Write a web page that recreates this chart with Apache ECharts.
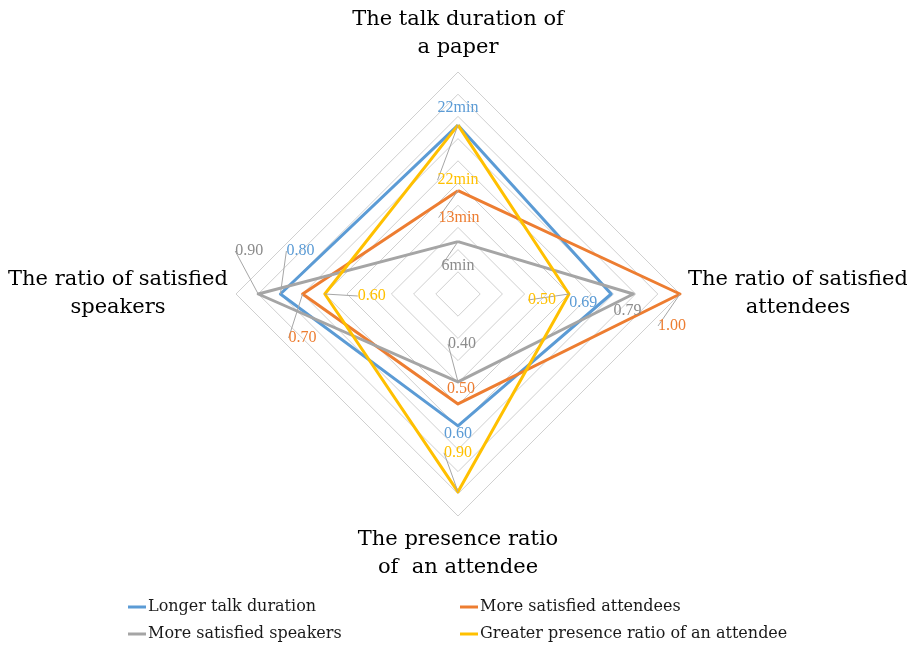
<!DOCTYPE html>
<html>
<head>
<meta charset="utf-8">
<script src="https://cdn.jsdelivr.net/npm/echarts@6/dist/echarts.min.js"></script>
<style>
html,body{margin:0;padding:0;background:#fff;}
#chart{width:907px;height:646px;}
</style>
</head>
<body>
<div id="chart"></div>
<script>
// Indicator order as ECharts places them (counter-clockwise from top): top, left, bottom, right
const indicatorNames = [
  'The talk duration of\na paper',
  'The ratio of satisfied\nspeakers',
  'The presence ratio\nof  an attendee',
  'The ratio of satisfied\nattendees'
];
const indicatorMin = [-1.2, 0, 0, 0];
const indicatorMax = [29.3, 1, 1.01, 1];
const labelUnits = ['min', '', '', ''];

const seriesNames = [
  'Longer talk duration',
  'More satisfied attendees',
  'More satisfied speakers',
  'Greater presence ratio of an attendee'
];
const longerTalk     = [22, 0.80, 0.60, 0.69];
const satAttendees   = [13, 0.70, 0.50, 1.00];
const satSpeakers    = [6, 0.90, 0.40, 0.79];
const greaterPresence = [22, 0.60, 0.90, 0.50];
const seriesValues = [longerTalk, satAttendees, satSpeakers, greaterPresence];

// styling
const colors = ['#5B9BD5', '#ED7D31', '#A5A5A5', '#FFC000'];
const labelColors = ['#5B9BD5', '#ED7D31', '#8C8C8C', '#FFC000'];
const FONT = '"DejaVu Serif", serif';
const LABEL_FONT = '"Liberation Serif", serif';
// label displacement [dx, dy] per series per indicator (top, left, bottom, right)
const labelShift = [
  [[0, -17], [20, -43], [0, 8], [-28, 9]],
  [[1, 27], [0, 44], [3, -15], [-8, 32]],
  [[0, 24], [-9, -43], [4, -38], [-6, 17]],
  [[0, 55], [47, 2], [0, -39], [-27, 6]]
];
const showLeader = [
  [false, true, false, false],
  [true, true, false, true],
  [true, true, true, false],
  [true, true, true, true]
];

const chart = echarts.init(document.getElementById('chart'), null, {renderer: 'canvas'});

const lineSeries = seriesNames.map((name, s) => ({
  type: 'radar',
  name: name,
  symbol: 'none',
  silent: true,
  z: 2,
  lineStyle: {color: colors[s], width: 3},
  itemStyle: {color: colors[s]},
  data: [{value: seriesValues[s], name: name}]
}));

const labelItems = [];
seriesValues.forEach((vals, s) => {
  vals.forEach((v, d) => {
    labelItems.push({
      value: vals,
      name: seriesNames[s] + '#' + d,
      _s: s, _d: d,
      label: {color: labelColors[s]},
      labelLine: {show: showLeader[s][d]}
    });
  });
});

const labelSeries = {
  type: 'radar',
  name: '__labels',
  silent: true,
  symbol: 'circle',
  symbolSize: 0,
  z: 5,
  lineStyle: {opacity: 0, width: 0},
  itemStyle: {color: 'transparent'},
  label: {
    show: true,
    position: 'inside',
    fontFamily: LABEL_FONT,
    fontSize: 16,
    formatter: function (p) {
      const it = labelItems[p.dataIndex];
      if (p.dimensionIndex !== it._d) return '';
      const v = seriesValues[it._s][it._d];
      return labelUnits[it._d] ? (v + labelUnits[it._d]) : v.toFixed(2);
    }
  },
  labelLine: {show: true, lineStyle: {color: '#A6A6A6', width: 1}, length2: 0},
  labelLayout: function (p) {
    if (!p.text) return {};
    const it = labelItems[p.dataIndex];
    const sh = labelShift[it._s][it._d];
    return {dx: sh[0], dy: sh[1]};
  },
  data: labelItems.map(it => ({value: it.value, name: it.name, label: it.label, labelLine: it.labelLine}))
};

function legendFor(names, left) {
  return {
    data: names,
    orient: 'vertical',
    left: left,
    top: 599,
    padding: 0,
    itemGap: 11,
    icon: 'rect', itemWidth: 18, itemHeight: 3,
    textStyle: {fontFamily: FONT, fontSize: 16, color: '#1a1a1a', padding: [0, 0, 0, -3]}
  };
}

const option = {
  backgroundColor: '#ffffff',
  animation: false,
  legend: [
    legendFor([seriesNames[0], seriesNames[2]], 128),
    legendFor([seriesNames[1], seriesNames[3]], 460)
  ],
  radar: {
    center: [458, 294],
    radius: 222,
    startAngle: 90,
    splitNumber: 10,
    shape: 'polygon',
    nameGap: 10,
    indicator: indicatorNames.map((n, i) => ({name: n, min: indicatorMin[i], max: indicatorMax[i]})),
    axisName: {
      formatter: function (name) {
        return name.split('\n').map(l => '{c|' + l + '}').join('\n');
      },
      rich: {
        c: {width: 216, align: 'center', fontFamily: FONT, fontSize: 21, lineHeight: 28, color: '#000'}
      }
    },
    splitLine: {lineStyle: {color: '#D0D0D0', width: 1}},
    splitArea: {show: false},
    axisLine: {show: false},
    axisTick: {show: false},
    axisLabel: {show: false}
  },
  series: lineSeries.concat([labelSeries])
};
chart.setOption(option);
</script>
</body>
</html>
